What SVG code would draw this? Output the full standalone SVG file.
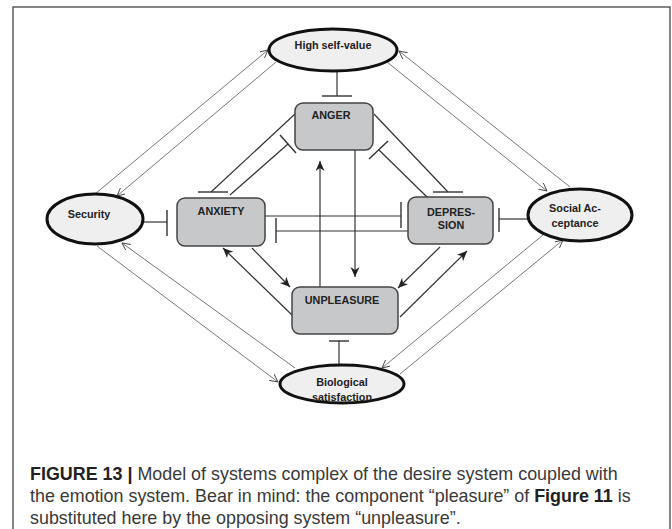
<svg xmlns="http://www.w3.org/2000/svg" width="672" height="529" viewBox="0 0 672 529">
<style>
.frame{fill:none;stroke:#444;stroke-width:1.3}
.ell{fill:#efefef;stroke:#111;stroke-width:3}
.box{fill:#c7c8c9;stroke:#444;stroke-width:1.5}
.lbl{font-family:"Liberation Sans",Arial,sans-serif;font-weight:bold;font-size:10.8px;fill:#222;text-anchor:middle}
.thin{stroke:#555;stroke-width:0.8;fill:none}
.dark{stroke:#333;stroke-width:1.2;fill:none}
.bar{stroke:#333;stroke-width:1.4;fill:none}
.cap{font-family:"Liberation Sans",Arial,sans-serif;font-size:17.9px;fill:#3a3a3a}
.capb{font-weight:bold;fill:#222}
</style>
<defs>
<marker id="open" markerWidth="10" markerHeight="10" refX="8" refY="4" orient="auto" markerUnits="userSpaceOnUse">
<path d="M0,0 L8,4 L0,8" fill="none" stroke="#444" stroke-width="0.9"/>
</marker>
<marker id="solid" markerWidth="12" markerHeight="10" refX="10" refY="4.5" orient="auto" markerUnits="userSpaceOnUse">
<path d="M0,0 L10,4.5 L0,9 L3,4.5 z" fill="#222"/>
</marker>
</defs>
<rect class="frame" x="13" y="7" width="657" height="540"/>
<g id="connectors">
<line class="dark" x1="337" y1="71" x2="337" y2="96"/><line class="bar" x1="322" y1="96" x2="352" y2="96"/>
<line class="dark" x1="339" y1="364" x2="339" y2="341"/><line class="bar" x1="329" y1="341" x2="349" y2="341"/>
<line class="dark" x1="143" y1="222" x2="167" y2="222"/><line class="bar" x1="167" y1="210" x2="167" y2="236"/>
<line class="dark" x1="528" y1="219" x2="499" y2="219"/><line class="bar" x1="499" y1="208" x2="499" y2="232"/>
<line class="dark" x1="265" y1="216" x2="401" y2="216"/><line class="bar" x1="401" y1="202" x2="401" y2="228"/>
<line class="dark" x1="408" y1="231" x2="276" y2="231"/><line class="bar" x1="276" y1="218" x2="276" y2="243"/>
<line class="dark" x1="295" y1="114" x2="211" y2="192"/><line class="bar" x1="198" y1="192" x2="228" y2="192"/>
<line class="dark" x1="230" y1="195" x2="288" y2="144"/><line class="bar" x1="280" y1="135" x2="296" y2="153"/>
<line class="dark" x1="374" y1="114" x2="448" y2="192"/><line class="bar" x1="433" y1="192" x2="463" y2="192"/>
<line class="dark" x1="427" y1="197" x2="379" y2="150"/><line class="bar" x1="369" y1="159" x2="388" y2="141"/>
<line class="dark" x1="320" y1="287" x2="320" y2="161" marker-end="url(#solid)"/>
<line class="dark" x1="355" y1="150" x2="355" y2="277" marker-end="url(#solid)"/>
<line class="dark" x1="252" y1="248" x2="290" y2="287" marker-end="url(#solid)"/>
<line class="dark" x1="292" y1="315" x2="223" y2="248" marker-end="url(#solid)"/>
<line class="dark" x1="440" y1="247" x2="398" y2="288" marker-end="url(#solid)"/>
<line class="dark" x1="400" y1="317" x2="467" y2="251" marker-end="url(#solid)"/>
<line class="thin" x1="95" y1="194" x2="268" y2="50" marker-end="url(#open)"/>
<line class="thin" x1="276" y1="62" x2="117" y2="196" marker-end="url(#open)"/>
<line class="thin" x1="570" y1="187" x2="399" y2="51" marker-end="url(#open)"/>
<line class="thin" x1="387" y1="62" x2="547" y2="191" marker-end="url(#open)"/>
<line class="thin" x1="97" y1="246" x2="278" y2="382" marker-end="url(#open)"/>
<line class="thin" x1="295" y1="368" x2="122" y2="243" marker-end="url(#open)"/>
<line class="thin" x1="543" y1="235" x2="382" y2="368" marker-end="url(#open)"/>
<line class="thin" x1="400" y1="374" x2="563" y2="240" marker-end="url(#open)"/>
</g>
<g id="high-self-value"><ellipse class="ell" cx="333" cy="50" rx="64" ry="21"/><text class="lbl" x="333" y="49">High self-value</text></g>
<g id="anger"><rect class="box" x="295" y="103" width="78" height="47" rx="8"/><text class="lbl" x="331" y="119">ANGER</text></g>
<g id="anxiety"><rect class="box" x="177" y="198" width="88" height="48" rx="8"/><text class="lbl" x="221" y="215">ANXIETY</text></g>
<g id="depression"><rect class="box" x="408" y="197" width="85" height="47" rx="8"/><text class="lbl" x="451" y="216">DEPRES-</text><text class="lbl" x="451" y="229">SION</text></g>
<g id="unpleasure"><rect class="box" x="292" y="287" width="106" height="47" rx="8"/><text class="lbl" x="342" y="304">UNPLEASURE</text></g>
<g id="security"><ellipse class="ell" cx="95" cy="219" rx="48" ry="25"/><text class="lbl" x="89" y="218">Security</text></g>
<g id="social-acceptance"><ellipse class="ell" cx="580" cy="215" rx="52" ry="26"/><text class="lbl" x="575" y="212">Social Ac-</text><text class="lbl" x="575" y="227">ceptance</text></g>
<g id="biological-satisfaction"><ellipse class="ell" cx="342" cy="384" rx="62" ry="19"/><text class="lbl" x="342" y="386">Biological</text><text class="lbl" x="342" y="401">satisfaction</text></g>
<g id="caption">
<text class="cap" x="30" y="480"><tspan class="capb">FIGURE 13 |</tspan> Model of systems complex of the desire system coupled with</text>
<text class="cap" x="30" y="502">the emotion system. Bear in mind: the component “pleasure” of <tspan class="capb">Figure 11</tspan> is</text>
<text class="cap" x="30" y="524">substituted here by the opposing system “unpleasure”.</text>
</g>
</svg>
